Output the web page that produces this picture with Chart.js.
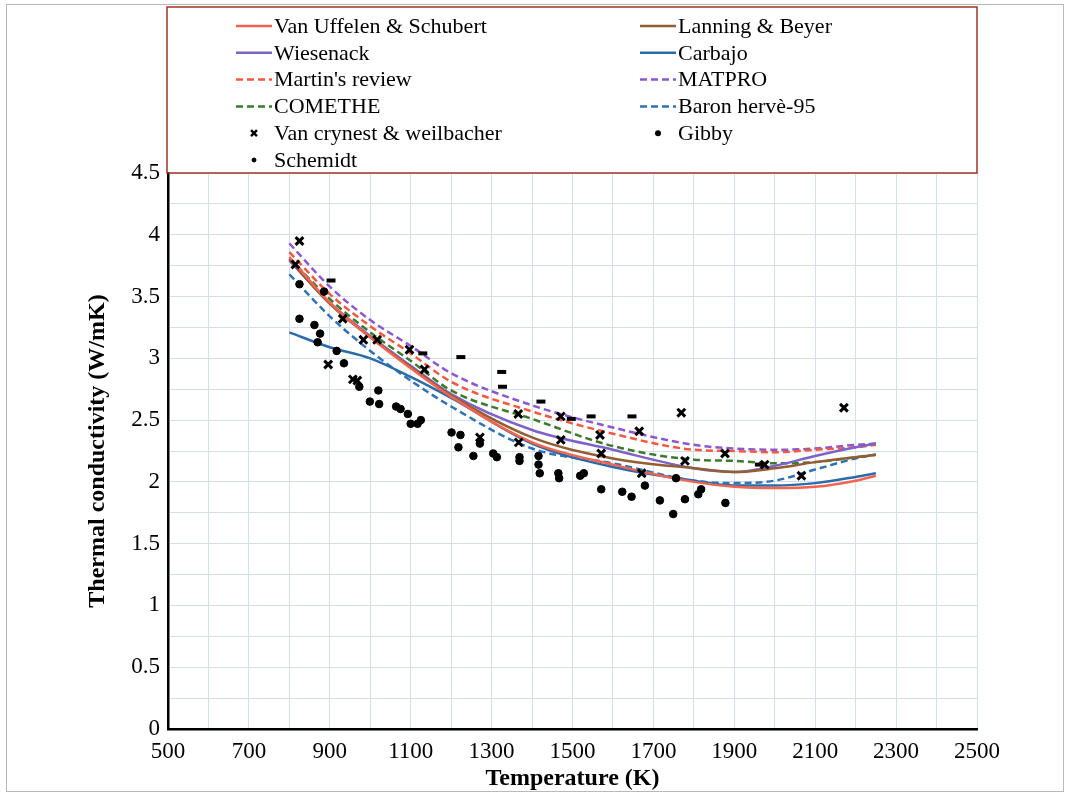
<!DOCTYPE html>
<html>
<head>
<meta charset="utf-8">
<script src="https://cdn.jsdelivr.net/npm/chart.js@4"></script>
<style>
  html, body { margin: 0; padding: 0; background: #fff; }
  #wrap { position: relative; width: 1069px; height: 793px; }
  #frame { position: absolute; left: 6px; top: 4px; width: 1056px; height: 786px; border: 1px solid #b9b9b9; pointer-events: none; }
</style>
</head>
<body>
<div id="wrap">
  <canvas id="chart" width="1069" height="793"></canvas>
  <div id="frame"></div>
</div>
<script>
// temperatures (K) where the correlations are sampled
const temps = [800, 900, 1000, 1100, 1200, 1400, 1600, 1800, 1900, 2000, 2100, 2200, 2250];

// thermal conductivity correlations (W/mK)
const vanUffelen   = [3.82, 3.45, 3.17, 2.92, 2.69, 2.32, 2.14, 2.00, 1.96, 1.95, 1.96, 2.01, 2.05];
const lanningBeyer = [3.80, 3.44, 3.17, 2.93, 2.70, 2.36, 2.19, 2.11, 2.08, 2.11, 2.16, 2.20, 2.22];
const wiesenack    = [3.79, 3.45, 3.18, 2.94, 2.71, 2.42, 2.26, 2.11, 2.08, 2.13, 2.21, 2.28, 2.31];
const carbajo      = [3.21, 3.09, 3.00, 2.85, 2.68, 2.31, 2.12, 2.01, 1.97, 1.97, 1.99, 2.04, 2.07];
const martin       = [3.86, 3.52, 3.26, 3.04, 2.81, 2.57, 2.39, 2.26, 2.25, 2.24, 2.26, 2.28, 2.30];
const matpro       = [3.93, 3.58, 3.31, 3.10, 2.88, 2.62, 2.44, 2.30, 2.27, 2.26, 2.27, 2.30, 2.31];
const comethe      = [3.81, 3.48, 3.21, 2.98, 2.74, 2.51, 2.29, 2.18, 2.17, 2.15, 2.16, 2.20, 2.22];
const baronHerve   = [3.68, 3.34, 3.06, 2.82, 2.61, 2.27, 2.15, 2.01, 1.99, 2.01, 2.10, 2.19, 2.22];

// measurements
const vcT = [815, 825, 896, 932, 957, 968, 983, 1017, 1097, 1134, 1271, 1366, 1367, 1471, 1471,
             1568, 1571, 1665, 1671, 1769, 1778, 1877, 1975, 2066, 2171];
const vcK = [3.76, 3.95, 2.95, 3.32, 2.83, 2.82, 3.15, 3.15, 3.07, 2.91, 2.36, 2.55, 2.32, 2.53, 2.34,
             2.38, 2.23, 2.41, 2.07, 2.56, 2.17, 2.23, 2.14, 2.05, 2.60];

const gibbyT = [825, 825, 862, 870, 876, 886, 917, 935, 973, 999, 1020, 1022, 1064, 1075, 1093, 1100,
                1117, 1125, 1201, 1218, 1223, 1255, 1271, 1304, 1313, 1369, 1369, 1416, 1416, 1419,
                1465, 1467, 1519, 1528, 1571, 1623, 1646, 1679, 1716, 1749, 1756, 1778, 1811, 1818, 1878];
const gibbyK = [3.60, 3.32, 3.27, 3.13, 3.20, 3.54, 3.06, 2.96, 2.77, 2.65, 2.74, 2.63, 2.61, 2.59, 2.55, 2.47,
                2.47, 2.50, 2.40, 2.28, 2.38, 2.21, 2.31, 2.23, 2.20, 2.20, 2.17, 2.21, 2.14, 2.07,
                2.07, 2.03, 2.05, 2.07, 1.94, 1.92, 1.88, 1.97, 1.85, 1.74, 2.03, 1.86, 1.90, 1.94, 1.83];

const schemidtT = [903, 1130, 1224, 1325, 1327, 1422, 1497, 1546, 1647, 1962];
const schemidtK = [3.63, 3.04, 3.01, 2.89, 2.77, 2.65, 2.51, 2.53, 2.53, 2.14];

const xyPairs = (xs, ys) => xs.map((x, i) => ({ x: x, y: ys[i] }));

function curve(label, values, color, dashed) {
    return {
        label: label,
        data: xyPairs(temps, values),
        showLine: true,
        borderColor: color,
        backgroundColor: color,
        borderWidth: 2.5,
        borderDash: dashed ? [7, 4] : [],
        pointRadius: 0,
        cubicInterpolationMode: 'monotone',
        order: 1
    };
}

function markers(label, xs, ys, style, radius, width) {
    return {
        label: label,
        data: xyPairs(xs, ys),
        showLine: false,
        pointStyle: style,
        pointRadius: radius,
        pointBorderWidth: width,
        borderColor: '#000',
        backgroundColor: '#000',
        order: 0
    };
}

const datasets = [
    curve('Van Uffelen & Schubert', vanUffelen, '#F2644F', false),
    curve('Lanning & Beyer', lanningBeyer, '#935E33', false),
    curve('Wiesenack', wiesenack, '#7D62C9', false),
    curve('Carbajo', carbajo, '#2A6CAA', false),
    curve("Martin's review", martin, '#F5583F', true),
    curve('MATPRO', matpro, '#8C58D0', true),
    curve('COMETHE', comethe, '#3B7A2C', true),
    curve('Baron hervè-95', baronHerve, '#2E73B3', true),
    markers('Van crynest & weilbacher', vcT, vcK, 'crossRot', 5.5, 3),
    markers('Gibby', gibbyT, gibbyK, 'circle', 3.8, 1),
    markers('Schemidt', schemidtT, schemidtK, 'line', 4.5, 4)
];

const serif = '"Liberation Serif", "Times New Roman", serif';

// two-column legend boxed above the plot
const boxLegend = {
    id: 'boxLegend',
    afterDraw(chart) {
        const ctx = chart.ctx;
        const area = chart.chartArea;
        ctx.save();
        ctx.strokeStyle = '#A2332B';
        ctx.lineWidth = 1.5;
        ctx.strokeRect(area.left - 1, 7, area.right - area.left + 1, area.top - 7);

        ctx.font = '22px ' + serif;
        ctx.textBaseline = 'middle';
        chart.data.datasets.forEach((ds, i) => {
            const x0 = (i % 2) ? 640 : 236;
            const y = 26 + Math.floor(i / 2) * 26.8;
            if (ds.showLine) {
                ctx.strokeStyle = ds.borderColor;
                ctx.lineWidth = ds.borderWidth;
                ctx.setLineDash(ds.borderDash);
                ctx.beginPath();
                ctx.moveTo(x0, y);
                ctx.lineTo(x0 + 36, y);
                ctx.stroke();
                ctx.setLineDash([]);
            } else {
                const isBar = ds.pointStyle === 'line';
                ctx.strokeStyle = '#000';
                ctx.fillStyle = '#000';
                ctx.lineWidth = isBar ? 1 : ds.pointBorderWidth - 0.5;
                Chart.helpers.drawPoint(ctx, {
                    pointStyle: isBar ? 'circle' : ds.pointStyle,
                    radius: isBar ? 2 : (ds.pointStyle === 'circle' ? 2.8 : 4.2),
                    borderWidth: isBar ? 1 : ds.pointBorderWidth - 0.5,
                    rotation: 0
                }, x0 + 18, y);
            }
            ctx.fillStyle = '#000';
            ctx.fillText(ds.label, x0 + 38, y + 1);
        });
        ctx.restore();
    }
};

new Chart(document.getElementById('chart'), {
    type: 'scatter',
    data: { datasets: datasets },
    options: {
        responsive: false,
        animation: false,
        layout: { padding: { top: 173, right: 92, left: 80, bottom: 0 } },
        plugins: {
            legend: { display: false },
            tooltip: { enabled: false }
        },
        scales: {
            x: {
                type: 'linear',
                min: 500,
                max: 2500,
                afterFit(scale) { scale.height = 64; },
                grid: { color: '#D5DFEC', lineWidth: 1, drawTicks: false },
                border: { color: '#000', width: 2.5 },
                ticks: {
                    stepSize: 100,
                    padding: 9,
                    color: '#000',
                    maxRotation: 0,
                    autoSkip: false,
                    font: { family: serif, size: 23 },
                    callback: v => ((v - 500) % 200 === 0 ? String(v) : '')
                },
                title: {
                    display: true,
                    text: 'Temperature (K)',
                    color: '#000',
                    padding: { top: 0, bottom: 0 },
                    font: { family: serif, size: 24, weight: 'bold' }
                }
            },
            y: {
                min: 0,
                max: 4.5,
                afterFit(scale) { scale.width = 88; },
                grid: { color: '#D5DFEC', lineWidth: 1, drawTicks: false },
                border: { color: '#000', width: 2.5 },
                ticks: {
                    stepSize: 0.25,
                    padding: 8,
                    color: '#000',
                    autoSkip: false,
                    font: { family: serif, size: 23 },
                    callback: v => (Math.abs(v * 2 - Math.round(v * 2)) < 1e-6 ? String(v) : '')
                },
                title: {
                    display: true,
                    text: 'Thermal conductivity (W/mK)',
                    color: '#000',
                    padding: { top: 3, bottom: 0 },
                    font: { family: serif, size: 24, weight: 'bold' }
                }
            }
        }
    },
    plugins: [boxLegend]
});
</script>
</body>
</html>
